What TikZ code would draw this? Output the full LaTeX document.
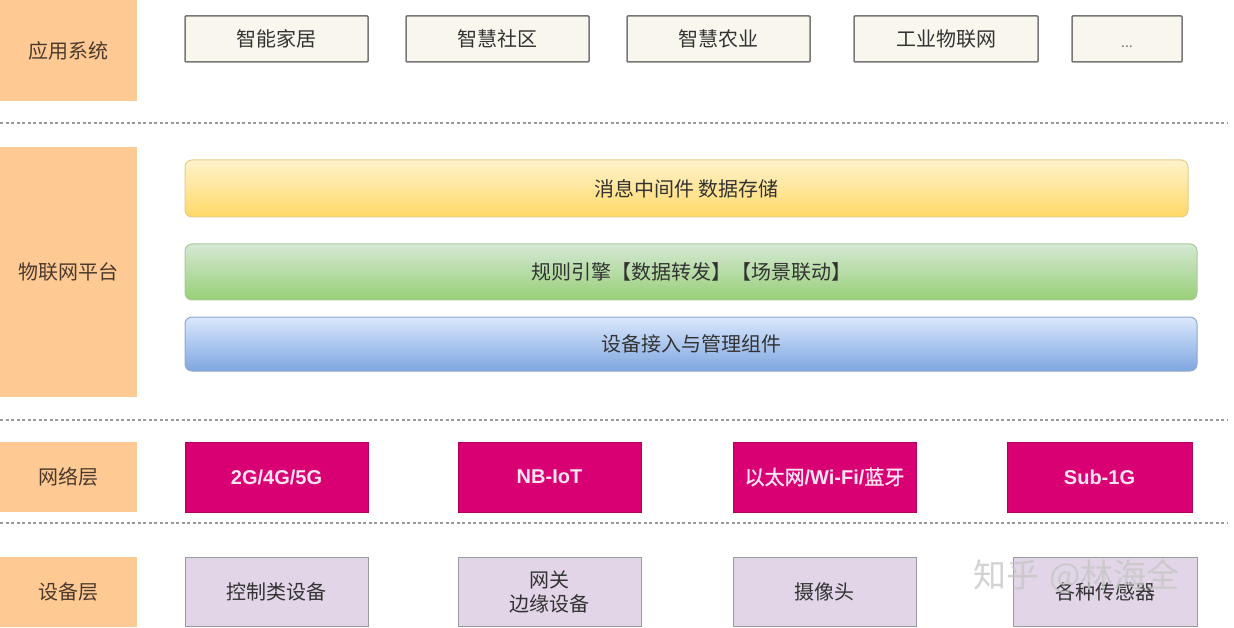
\documentclass[tikz,border=0pt]{standalone}
\usepackage{fontspec}
\setmainfont{Noto Sans CJK SC}
\newfontfamily\latinfont{Liberation Sans}
\newfontfamily\cjkbold[FakeBold=1.2]{Noto Sans CJK SC}
\usetikzlibrary{positioning}
\definecolor{layerorange}{HTML}{FFC993}
\definecolor{apptext}{HTML}{333333}
\definecolor{layertext}{HTML}{4A3A2E}
\definecolor{appfill}{HTML}{F9F7ED}
\definecolor{appdraw}{HTML}{777777}
\definecolor{ylwtop}{HTML}{FFF2CC}
\definecolor{ylwbot}{HTML}{FFD966}
\definecolor{ylwdraw}{HTML}{E6CC88}
\definecolor{grntop}{HTML}{D5E8D4}
\definecolor{grnbot}{HTML}{97D077}
\definecolor{grndraw}{HTML}{A9C99A}
\definecolor{blutop}{HTML}{DAE8FC}
\definecolor{blubot}{HTML}{7EA6E0}
\definecolor{bludraw}{HTML}{8FA8CF}
\definecolor{netfill}{HTML}{D80073}
\definecolor{netdraw}{HTML}{B0005E}
\definecolor{nettext}{HTML}{FFE4F2}
\definecolor{devfill}{HTML}{E1D5E7}
\definecolor{devdraw}{HTML}{9A9A9A}
\definecolor{sepline}{HTML}{9A9A9A}
\tikzset{
  every node/.style={inner sep=0pt, outer sep=0pt, font=\fontsize{20}{24}\selectfont, text=apptext, align=center},
  layerbox/.style={fill=layerorange, anchor=north west, text=layertext},
  appbox/.style={fill=appfill, draw=appdraw, line width=1.5pt, rounded corners=1pt, anchor=north west, minimum height=46pt},
  barbox/.style={rounded corners=7pt, line width=1pt, anchor=north west},
  netbox/.style={fill=netfill, draw=netdraw, line width=1pt, anchor=north west, minimum height=70pt, minimum width=183pt, text=nettext},
  devbox/.style={fill=devfill, draw=devdraw, line width=1pt, anchor=north west, minimum height=69pt, minimum width=183pt},
  sepdots/.style={draw=sepline, line width=1.5pt, dash pattern=on 3pt off 2.5pt}
}
\begin{document}
\begin{tikzpicture}[x=1pt,y=-1pt]
\useasboundingbox (0,0) rectangle (1234,628);
% layer labels
\node[layerbox, minimum width=137pt, minimum height=101pt] (l1) at (0,0) {应用系统};
\node[layerbox, minimum width=137pt, minimum height=250pt] (l2) at (0,147) {物联网平台};
\node[layerbox, minimum width=137pt, minimum height=70pt] (l3) at (0,442) {网络层};
\node[layerbox, minimum width=137pt, minimum height=70pt] (l4) at (0,557) {设备层};
% separators
\coordinate (s1a) at (0,123); \coordinate (s1b) at (1228,123);
\coordinate (s2a) at (0,420); \coordinate (s2b) at (1228,420);
\coordinate (s3a) at (0,523); \coordinate (s3b) at (1228,523);
\draw[sepdots] (s1a) -- (s1b);
\draw[sepdots] (s2a) -- (s2b);
\draw[sepdots] (s3a) -- (s3b);
% application row
\node[appbox, minimum width=183pt] (a1) at (185,16) {智能家居};
\node[appbox, minimum width=183pt] (a2) at (406,16) {智慧社区};
\node[appbox, minimum width=183pt] (a3) at (627,16) {智慧农业};
\node[appbox, minimum width=184pt] (a4) at (854,16) {工业物联网};
\node[appbox, minimum width=110pt, font=\fontsize{14}{16}\selectfont, text=black!55] (a5) at (1072,16) {\smash{\raisebox{-9pt}{...}}};
% platform bars
\node[barbox, top color=ylwtop, bottom color=ylwbot, draw=ylwdraw, minimum width=1003pt, minimum height=57pt] (p1) at (185,160) {消息中间件 数据存储};
\node[barbox, top color=grntop, bottom color=grnbot, draw=grndraw, minimum width=1012pt, minimum height=56pt] (p2) at (185,244) {规则引擎【数据转发】【场景联动】};
\node[barbox, top color=blutop, bottom color=blubot, draw=bludraw, minimum width=1012pt, minimum height=54pt] (p3) at (185,317) {设备接入与管理组件};
% network row
\node[netbox] (n1) at (185,442) {\latinfont\bfseries 2G/4G/5G};
\node[netbox] (n2) at (458,442) {\latinfont\bfseries NB-IoT};
\node[netbox] (n3) at (733,442) {\cjkbold 以太网{\latinfont\bfseries /Wi-Fi/}蓝牙};
\node[netbox, minimum width=185pt] (n4) at (1007,442) {\latinfont\bfseries Sub-1G};
% device row
\node[devbox] (d1) at (185,557) {控制类设备};
\node[devbox] (d2) at (458,557) {网关\\边缘设备};
\node[devbox] (d3) at (733,557) {摄像头};
\node[devbox, minimum width=184pt] (d4) at (1013,557) {各种传感器};
% watermark
\node[text=black!22, opacity=0.8, font=\fontsize{33}{36}\selectfont, anchor=west] (wm) at (973,576) {知乎\hspace{10pt}@林海全};
\end{tikzpicture}
\end{document}
